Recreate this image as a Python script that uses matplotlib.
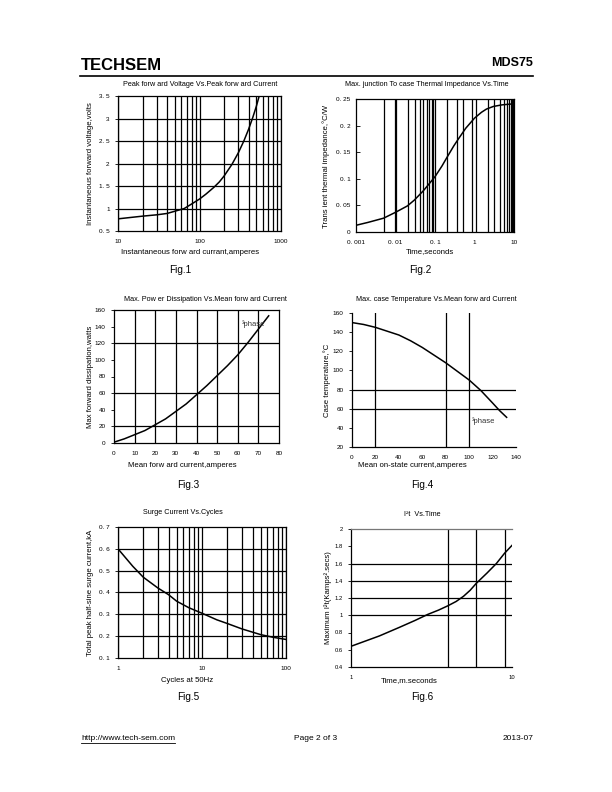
import numpy as np
import matplotlib
matplotlib.use("Agg")
import matplotlib.pyplot as plt
from matplotlib.lines import Line2D

plt.rcParams['font.family'] = ['Liberation Sans', 'DejaVu Sans']

# ---- data ----
fig1_current = [10, 20, 30, 40, 50, 65, 80, 100, 120, 150, 175, 200, 250, 300, 350, 400,
                450, 500, 540]
fig1_voltage = [0.77, 0.83, 0.86, 0.89, 0.94, 1.0, 1.1, 1.21, 1.32, 1.47, 1.59, 1.72, 1.98,
                2.24, 2.5, 2.76, 3.02, 3.28, 3.5]

fig2_time = [0.001, 0.002, 0.005, 0.01, 0.02, 0.03, 0.05, 0.07, 0.1, 0.15, 0.2, 0.3,
             0.4, 0.6, 1, 1.5, 2, 3, 5, 10]
fig2_imp = [0.0126, 0.018, 0.026, 0.037, 0.049, 0.06, 0.077, 0.09, 0.104, 0.124, 0.14,
            0.162, 0.176, 0.195, 0.214, 0.225, 0.231, 0.236, 0.239, 0.241]
fig2_vgrid = [0.005, 0.0095, 0.0105, 0.021, 0.032, 0.042, 0.051, 0.064, 0.07, 0.083,
              0.089, 0.1, 0.2, 0.37, 0.52, 0.86, 1.1, 2.2, 3.1, 4.4, 5.7, 6.5, 7.4,
              8.4, 9.1, 9.6]

fig3_current = [0, 5, 10, 15, 20, 25, 30, 35, 40, 45, 50, 55, 60, 65, 70, 75]
fig3_power = [1, 5, 10, 15, 22, 29, 38, 47, 58, 69, 81, 93, 106, 121, 137, 153]

fig4_current = [0, 10, 20, 30, 40, 50, 60, 70, 80, 90, 100, 110, 120, 126, 132]
fig4_temp = [150, 148, 145, 141, 137, 131, 124, 116, 108, 99, 90, 79, 66, 58, 51]

fig5_cycles = [1, 1.5, 2, 3, 4, 5, 7, 10, 15, 20, 30, 50, 70, 100]
fig5_surge = [0.6, 0.52, 0.47, 0.42, 0.39, 0.36, 0.33, 0.305, 0.275, 0.258, 0.233,
              0.207, 0.195, 0.185]

fig6_time = [1, 1.5, 2, 2.5, 3, 3.5, 4, 4.5, 5, 5.5, 6, 7, 8, 9, 10]
fig6_i2t = [0.64, 0.76, 0.86, 0.94, 1.01, 1.06, 1.11, 1.16, 1.22, 1.29, 1.37, 1.49, 1.6,
            1.72, 1.81]

W, H = 612.0, 792.0
fig = plt.figure(figsize=(6.12, 7.92), dpi=100)

def box(x0, y0, x1, y1):
    # pixel box (top-left origin) -> figure fraction rect
    return [x0 / W, 1 - y1 / H, (x1 - x0) / W, (y1 - y0) / H]

def ftext(x, y, s, **kw):
    kw.setdefault('ha', 'center')
    kw.setdefault('va', 'center')
    kw.setdefault('fontsize', 5.2)
    fig.text(x / W, 1 - y / H, s, **kw)

GL = dict(color='black', lw=0.9)
TICK = 4.6

def style(ax, hide=()):
    for s in ax.spines.values():
        s.set_linewidth(0.9)
    for s in hide:
        ax.spines[s].set_visible(False)
    ax.tick_params(axis='both', which='both', labelsize=TICK, length=2, width=0.6, pad=4)
    ax.tick_params(axis='x', which='both', length=0, pad=6)
    ax.tick_params(axis='x', which='minor', labelbottom=False)

# ---------- Fig 1 ----------
ax1 = fig.add_axes(box(118, 96, 281, 231))
ax1.set_xscale('log')
ax1.set_xlim(10, 1000)
ax1.set_ylim(0.5, 3.5)
ax1.grid(True, which='both', axis='x', **GL)
for v in np.arange(1.0, 3.5, 0.5):
    ax1.axhline(v, **GL)
ax1.plot(fig1_current, fig1_voltage, color='black', lw=1.1, clip_on=True)
ax1.set_xticks([10, 100, 1000], ['10', '100', '1000'])
ax1.set_yticks([0.5, 1, 1.5, 2, 2.5, 3, 3.5], ['0. 5', '1', '1. 5', '2', '2. 5', '3', '3. 5'])
style(ax1)
ax1.xaxis.set_minor_formatter(plt.NullFormatter())

# ---------- Fig 2 ----------
ax2 = fig.add_axes(box(356, 99, 514, 232))
ax2.set_xscale('log')
ax2.set_xlim(0.001, 10)
ax2.set_ylim(0, 0.25)
for v in fig2_vgrid:
    ax2.axvline(v, **GL)
ax2.plot(fig2_time, fig2_imp, color='black', lw=1.1)
ax2.set_xticks([0.001, 0.01, 0.1, 1, 10], ['0. 001', '0. 01', '0. 1', '1', '10'])
ax2.xaxis.set_minor_locator(plt.NullLocator())
ax2.set_yticks([0, 0.05, 0.1, 0.15, 0.2, 0.25], ['0', '0. 05', '0. 1', '0. 15', '0. 2', '0. 25'])
style(ax2)
ax2.tick_params(axis='y', direction='in', length=3)

# ---------- Fig 3 ----------
ax3 = fig.add_axes(box(114, 310, 279, 443))
ax3.set_xlim(0, 80)
ax3.set_ylim(0, 160)
for v in range(10, 80, 10):
    ax3.axvline(v, **GL)
for v in [20, 60, 120]:
    ax3.axhline(v, **GL)
ax3.plot(fig3_current, fig3_power, color='black', lw=1.1)
ax3.text(62, 143, '³phase', fontsize=5.5, va='center', ha='left', color='#333333')
ax3.set_xticks(range(0, 90, 10))
ax3.set_yticks(range(0, 180, 20))
style(ax3)

# ---------- Fig 4 ----------
ax4 = fig.add_axes(box(352, 313, 516, 447))
ax4.set_xlim(0, 140)
ax4.set_ylim(20, 160)
for v in [20, 80, 100]:
    ax4.axvline(v, **GL)
for v in [60, 80]:
    ax4.axhline(v, **GL)
ax4.plot(fig4_current, fig4_temp, color='black', lw=1.1)
ax4.text(102, 47, '³phase', fontsize=5.5, va='center', ha='left', color='#333333')
ax4.set_xticks(range(0, 160, 20))
ax4.set_yticks(range(20, 180, 20))
style(ax4, hide=('top', 'right'))

# ---------- Fig 5 ----------
ax5 = fig.add_axes(box(118, 527, 286, 658))
ax5.set_xscale('log')
ax5.set_xlim(1, 100)
ax5.set_ylim(0.1, 0.7)
ax5.grid(True, which='both', axis='x', **GL)
for v in np.arange(0.2, 0.7, 0.1):
    ax5.axhline(v, **GL)
ax5.plot(fig5_cycles, fig5_surge, color='black', lw=1.1)
ax5.set_xticks([1, 10, 100], ['1', '10', '100'])
ax5.set_yticks([0.1, 0.2, 0.3, 0.4, 0.5, 0.6, 0.7],
               ['0. 1', '0. 2', '0. 3', '0. 4', '0. 5', '0. 6', '0. 7'])
style(ax5)
ax5.xaxis.set_minor_formatter(plt.NullFormatter())

# ---------- Fig 6 ----------
ax6 = fig.add_axes(box(351, 529, 512, 667))
ax6.set_xscale('log')
ax6.set_xlim(1, 10)
ax6.set_ylim(0.4, 2.0)
for v in [4, 6, 9]:
    ax6.axvline(v, **GL)
for v in [1.0, 1.2, 1.4, 1.6]:
    ax6.axhline(v, **GL)
ax6.plot(fig6_time, fig6_i2t, color='black', lw=1.1)
ax6.set_xticks([1, 10], ['1', '10'])
ax6.xaxis.set_minor_locator(plt.NullLocator())
ax6.set_yticks([0.4, 0.6, 0.8, 1, 1.2, 1.4, 1.6, 1.8, 2],
               ['0.4', '0.6', '0.8', '1', '1.2', '1.4', '1.6', '1.8', '2'])
style(ax6, hide=('right',))
ax6.tick_params(axis='y', labelsize=4.2)
ax6.tick_params(axis='x', labelsize=4.2)
ax6.spines['top'].set_color('#777777')

# ---------- titles, axis labels, captions ----------
ftext(200, 85, 'Peak forw ard Voltage Vs.Peak forw ard Current')
ftext(427, 85, 'Max. junction To case Thermal Impedance Vs.Time')
ftext(205, 299, 'Max. Pow er Dissipation Vs.Mean forw ard Current')
ftext(436, 299, 'Max. case Temperature Vs.Mean forw ard Current')
ftext(183, 513, 'Surge Current Vs.Cycles')
ftext(422, 514, 'I²t  Vs.Time')

ftext(190, 253, 'Instantaneous forw ard currant,amperes', fontsize=5.6)
ftext(430, 252, 'Time,seconds', fontsize=5.6)
ftext(182, 466, 'Mean forw ard current,amperes', fontsize=5.6)
ftext(412, 466, 'Mean on-state current,amperes', fontsize=5.6)
ftext(187, 680, 'Cycles at 50Hz', fontsize=5.6)
ftext(409, 681, 'Time,m.seconds', fontsize=5.6)

ftext(91, 164, 'Instantaneous forward voltage,volts', rotation=90, fontsize=5.6)
ftext(326, 166, 'Trans ient thermal impedance,°C/W', rotation=90, fontsize=5.6)
ftext(91, 377, 'Max forward dissipation,watts', rotation=90, fontsize=5.6)
ftext(327, 380, 'Case temperature,°C', rotation=90, fontsize=5.6)
ftext(90, 593, 'Total peak half-sine surge current,kA', rotation=90, fontsize=5.6)
ftext(328, 598, 'Maximum I²t(Kamps².secs)', rotation=90, fontsize=5.6)

ftext(180, 270, 'Fig.1', fontsize=7.2)
ftext(420, 270, 'Fig.2', fontsize=7.2)
ftext(188, 485, 'Fig.3', fontsize=7.2)
ftext(422, 485, 'Fig.4', fontsize=7.2)
ftext(188, 697, 'Fig.5', fontsize=7.2)
ftext(422, 697, 'Fig.6', fontsize=7.2)

# ---------- header / footer ----------
ftext(81, 65, 'TECHSEM', ha='left', fontsize=12, fontweight='bold', fontstretch='condensed')
ftext(533, 63, 'MDS75', ha='right', fontsize=9, fontweight='bold')
fig.add_artist(Line2D([80 / W, 533 / W], [1 - 76 / H, 1 - 76 / H], color='black',
                      lw=1.2, transform=fig.transFigure))

ftext(81, 738, 'http://www.tech-sem.com', ha='left', fontsize=6)
fig.add_artist(Line2D([81 / W, 175 / W], [1 - 742.5 / H, 1 - 742.5 / H], color='black',
                      lw=0.6, transform=fig.transFigure))
ftext(316, 738, 'Page 2 of 3', fontsize=6)
ftext(533, 738, '2013-07', ha='right', fontsize=6)

fig.savefig('out.png', dpi=100)
